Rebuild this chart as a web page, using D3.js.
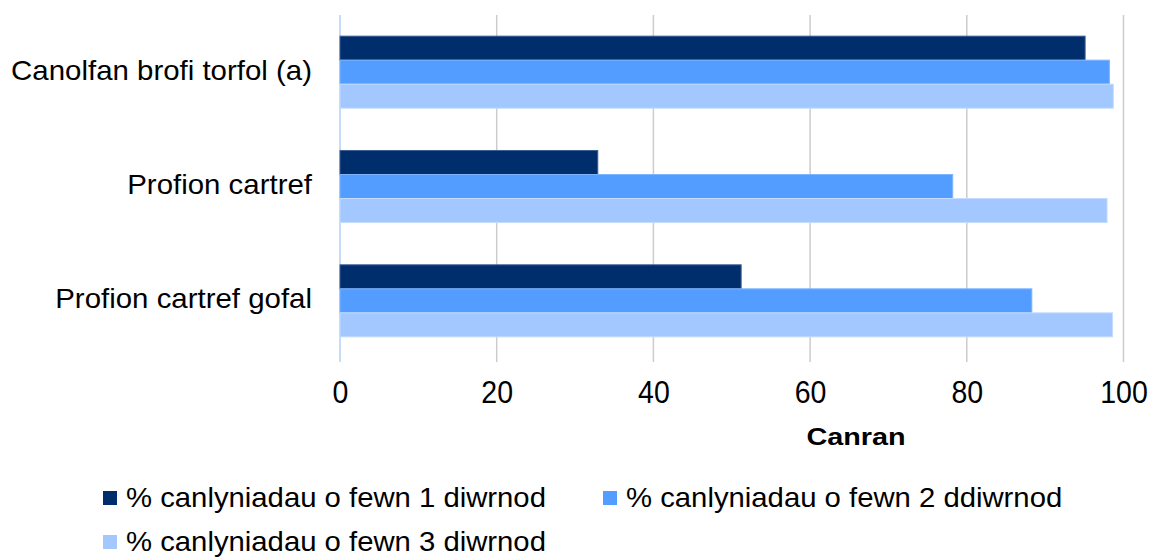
<!DOCTYPE html>
<html><head><meta charset="utf-8">
<script src="https://cdn.jsdelivr.net/npm/d3@7"></script>
<style>body{margin:0;background:#fff}svg{display:block}text{font-family:"Liberation Sans",Arial,sans-serif}</style>
</head><body><svg id="c" width="1150" height="558"></svg>
<script>
const categories = ["Canolfan brofi torfol (a)", "Profion cartref", "Profion cartref gofal"];
const seriesNames = ["% canlyniadau o fewn 1 diwrnod", "% canlyniadau o fewn 2 ddiwrnod", "% canlyniadau o fewn 3 diwrnod"];
const day1 = [95.1, 32.9, 51.2];
const day2 = [98.2, 78.2, 88.3];
const day3 = [98.7, 97.9, 98.6];
const xTicks = [0, 20, 40, 60, 80, 100];
const axisTitle = "Canran";

const colors = ["#002d6b", "#529dff", "#a2c8ff"];
const strokes = ["#3c5f94", "#7db5ff", "#c4dcff"];
const series = [day1, day2, day3];

const svg = d3.select("#c");
const x = d3.scaleLinear().domain([0,100]).range([340,1123.5]);
const y = d3.scaleBand().domain(categories).range([15,358]).paddingInner(0.37).paddingOuter(0.185);
const ys = d3.scaleBand().domain([0,1,2]).range([0,y.bandwidth()]);

// gridlines
svg.append("g").selectAll("line").data(xTicks.slice(1)).join("line")
  .attr("x1",d=>x(d)).attr("x2",d=>x(d)).attr("y1",15).attr("y2",362)
  .attr("stroke","#cccccc").attr("stroke-width",1.5);
svg.append("line").attr("x1",x(0)).attr("x2",x(0)).attr("y1",15).attr("y2",362)
  .attr("stroke","#b3d0f5").attr("stroke-width",1.5);

// bars
series.forEach((s,i)=>{
  svg.append("g").selectAll("rect").data(s).join("rect")
    .attr("x",x(0)).attr("y",(d,j)=>y(categories[j])+ys(i))
    .attr("width",d=>x(d)-x(0)).attr("height",ys.bandwidth())
    .attr("fill",colors[i]).attr("stroke",strokes[i]).attr("stroke-width",1);
});

// x axis tick labels
const xa = svg.append("g").attr("transform","translate(0,403)")
  .call(d3.axisBottom(x).tickValues(xTicks).tickSize(0).tickPadding(0));
xa.select(".domain").remove();
xa.selectAll("text").attr("font-size",31).attr("fill","#000").attr("dy",0).attr("y",0)
  .attr("font-family","Liberation Sans, Arial, sans-serif")
  .attr("transform","scale(0.92,1)");

// category labels
const ya = svg.append("g").attr("transform","translate(340,0)")
  .call(d3.axisLeft(y).tickSize(0).tickPadding(28));
ya.select(".domain").remove();
ya.selectAll("text").attr("font-size",27).attr("fill","#000").attr("x",0).attr("dy",0).attr("y",7.5)
  .attr("font-family","Liberation Sans, Arial, sans-serif")
  .attr("transform","translate(-28,0) scale(1.09,1)");

svg.append("g").attr("transform","translate(856,445) scale(1.2,1)")
  .append("text").attr("text-anchor","middle")
  .attr("font-size",24).attr("font-weight","bold").text(axisTitle);

// legend
const legendPos = [[103,507],[603,507],[103,551]];
seriesNames.forEach((n,i)=>{
  const [lx,ly] = legendPos[i];
  svg.append("rect").attr("x",lx).attr("y",ly-16).attr("width",14).attr("height",14).attr("fill",colors[i]);
  svg.append("g").attr("transform",`translate(${lx+23},${ly}) scale(1.085,1)`)
    .append("text").attr("font-size",27).attr("fill","#000").text(n);
});
</script></body></html>
